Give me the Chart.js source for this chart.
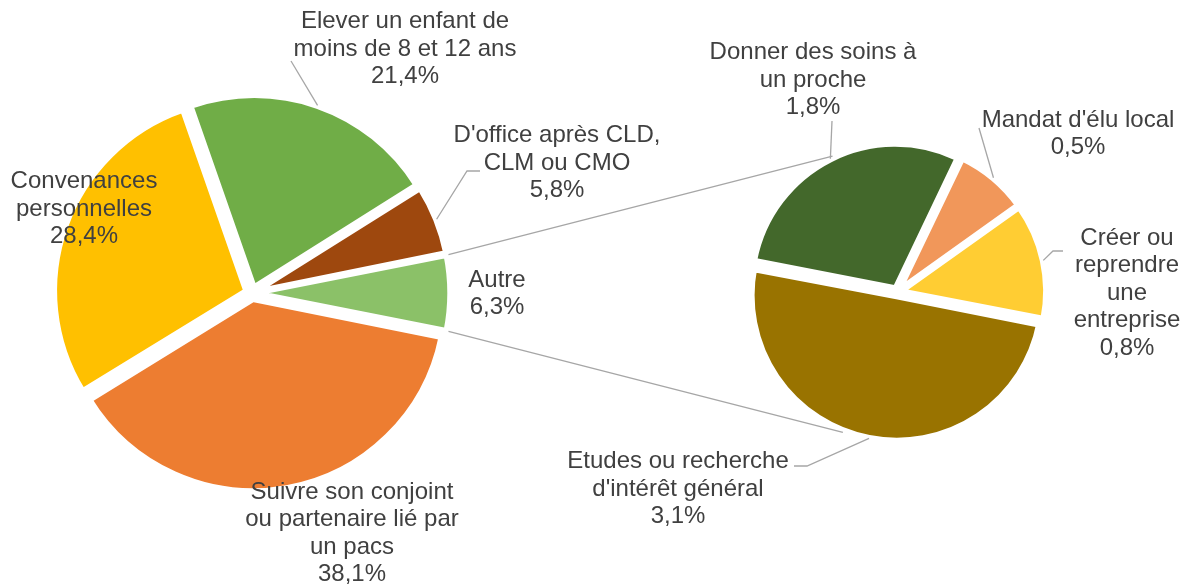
<!DOCTYPE html>
<html lang="fr">
<head>
<meta charset="utf-8">
<script src="https://cdn.jsdelivr.net/npm/chart.js@4.4.1/dist/chart.umd.min.js"></script>
<style>
  html, body { margin: 0; padding: 0; background: #fff; }
  #wrap { position: relative; width: 1189px; height: 588px; }
  #wrap canvas { position: absolute; left: 0; top: 0; }
</style>
</head>
<body>
<div id="wrap">
  <canvas id="pieMain" width="1189" height="588"></canvas>
  <canvas id="pieDetail" width="1189" height="588"></canvas>
</div>
<script>
// Camembert principal (en %)
const mainLabels = [
  ['Autre'],
  ['Suivre son conjoint', 'ou partenaire lié par', 'un pacs'],
  ['Convenances', 'personnelles'],
  ['Elever un enfant de', 'moins de 8 et 12 ans'],
  ["D'office après CLD,", 'CLM ou CMO']
];
const mainValues = [6.3, 38.1, 28.4, 21.4, 5.8];
const mainColors = ['#8BC168', '#ED7D31', '#FFC000', '#70AD47', '#9E480E'];

// Détail de la part "Autre" (en %)
const detailLabels = [
  ['Etudes ou recherche', "d'intérêt général"],
  ['Donner des soins à', 'un proche'],
  ["Mandat d'élu local"],
  ['Créer ou', 'reprendre', 'une', 'entreprise']
];
const detailValues = [3.1, 1.8, 0.5, 0.8];
const detailColors = ['#997300', '#43682B', '#F1975A', '#FFCD33'];

// Mise en page
const W = 1189, H = 588;
const FONT = '24px "Liberation Sans", Arial, sans-serif';
const LINE_H = 27.5;
const TEXT_COLOR = '#404040';
const LINE_COLOR = '#A6A6A6';

const somme = (arr) => arr.reduce((a, b) => a + b, 0);

// rVis = rayon visible, d = éclatement, w = demi-largeur du liseré blanc
const mainGeo = { cx: 252, cy: 293, rVis: 188.3, d: 7, w: 2.2, half: 252,
  rotation: 90 - mainValues[0] / somme(mainValues) * 180 };
const detailGeo = { cx: 897.5, cy: 292, rVis: 140.5, d: 5.2, w: 2.2, half: 150, rotation: 101 };

const mainLabelPos = [[497, 294], [352, 533.5], [84, 209], [405, 49], [557, 163]];
const mainLeaders = [null, null, null, [[291, 61]], [[467, 171], [480, 171]]];
const detailLabelPos = [[678, 489], [813, 80], [1078, 134], [1127, 293]];
const detailLeaders = [[[807, 466], [794, 466]], [[832, 121]], [[979, 128]], [[1053, 251], [1063, 251]]];

// angles (depuis le haut, sens horaire) où les traits de liaison touchent le 2e camembert
const connectTop = { index: 1, angle: 334.5 };
const connectBottom = { index: 0, angle: 201.5 };
const LEADER_PAD = 3.5;
const CONNECT_PAD = 5;

const fmt = (v) => v.toFixed(1).replace('.', ',') + '%';

// Chart.js v4 : translation = offset/4, rayon agrandi de offset/4 * (1 - sin c).
// On choisit offset et liseré par secteur pour un éclatement uniforme comme dans Excel.
function sliceStyle(geo, data, i) {
  const c = 2 * Math.PI * data[i] / somme(data);
  const f = 1 - Math.sin(Math.min(Math.PI, c));
  const s = Math.sin(Math.min(c / 2, Math.PI / 2));
  const h = geo.w + geo.d * f / ((1 + f) / s + 1);
  const t = geo.d + (geo.w - h) / s;
  return { offset: 4 * t, borderWidth: 2 * h };
}

// point sur le bord visible d'un secteur, à un angle donné (radians canvas)
function edgePoint(arc, angle, pad) {
  const mid = (arc.startAngle + arc.endAngle) / 2;
  const t = (arc.options.offset || 0) / 4;
  const c = arc.endAngle - arc.startAngle;
  const fix = 1 - Math.sin(Math.min(Math.PI, c));
  const r = arc.outerRadius + t * fix - arc.options.borderWidth / 2 + pad;
  const ox = arc.x + Math.cos(mid) * t;
  const oy = arc.y + Math.sin(mid) * t;
  return { x: ox + Math.cos(angle) * r, y: oy + Math.sin(angle) * r };
}

function labelPlugin(lines, positions, leaders) {
  return {
    id: 'etiquettes',
    afterDraw(chart) {
      const ctx = chart.ctx;
      const meta = chart.getDatasetMeta(0);
      const values = chart.data.datasets[0].data;
      ctx.save();
      ctx.strokeStyle = LINE_COLOR;
      ctx.lineWidth = 1.3;
      meta.data.forEach((arc, i) => {
        const pts = leaders[i];
        if (!pts) return;
        const p = edgePoint(arc, (arc.startAngle + arc.endAngle) / 2, LEADER_PAD);
        ctx.beginPath();
        ctx.moveTo(p.x, p.y);
        pts.forEach(q => ctx.lineTo(q[0], q[1]));
        ctx.stroke();
      });
      ctx.font = FONT;
      ctx.fillStyle = TEXT_COLOR;
      ctx.textAlign = 'center';
      ctx.textBaseline = 'middle';
      lines.forEach((txt, i) => {
        const all = txt.concat([fmt(values[i])]);
        const [x, y] = positions[i];
        all.forEach((t, k) => ctx.fillText(t, x, y + (k - (all.length - 1) / 2) * LINE_H));
      });
      ctx.restore();
    }
  };
}

const connectorPlugin = {
  id: 'liaisons',
  afterDraw(chart) {
    const ctx = chart.ctx;
    const autre = mainChart.getDatasetMeta(0).data[0];
    const det = chart.getDatasetMeta(0).data;
    const rad = (a) => (a - 90) * Math.PI / 180;
    const a1 = edgePoint(autre, autre.startAngle, CONNECT_PAD);
    const a2 = edgePoint(autre, autre.endAngle, CONNECT_PAD);
    const b1 = edgePoint(det[connectTop.index], rad(connectTop.angle), CONNECT_PAD);
    const b2 = edgePoint(det[connectBottom.index], rad(connectBottom.angle), CONNECT_PAD);
    ctx.save();
    ctx.strokeStyle = LINE_COLOR;
    ctx.lineWidth = 1.3;
    ctx.beginPath();
    ctx.moveTo(a1.x, a1.y); ctx.lineTo(b1.x, b1.y);
    ctx.moveTo(a2.x, a2.y); ctx.lineTo(b2.x, b2.y);
    ctx.stroke();
    ctx.restore();
  }
};

function pieConfig(labels, values, colors, geo, extraPlugins) {
  return {
    type: 'pie',
    data: {
      labels: labels.map(l => l.join(' ')),
      datasets: [{
        data: values,
        backgroundColor: colors,
        borderColor: '#ffffff',
        borderWidth: (ctx) => sliceStyle(geo, ctx.dataset.data, ctx.dataIndex).borderWidth,
        offset: (ctx) => sliceStyle(geo, ctx.dataset.data, ctx.dataIndex).offset,
        hoverOffset: 0,
        clip: false
      }]
    },
    options: {
      responsive: false,
      animation: false,
      events: [],
      radius: geo.rVis + geo.w,
      rotation: geo.rotation,
      layout: {
        padding: {
          left: geo.cx - geo.half,
          right: W - geo.cx - geo.half,
          top: geo.cy - geo.half,
          bottom: H - geo.cy - geo.half
        }
      },
      plugins: { legend: { display: false }, tooltip: { enabled: false } }
    },
    plugins: extraPlugins
  };
}

const mainChart = new Chart(document.getElementById('pieMain'),
  pieConfig(mainLabels, mainValues, mainColors, mainGeo,
    [labelPlugin(mainLabels, mainLabelPos, mainLeaders)]));

const detailChart = new Chart(document.getElementById('pieDetail'),
  pieConfig(detailLabels, detailValues, detailColors, detailGeo,
    [labelPlugin(detailLabels, detailLabelPos, detailLeaders), connectorPlugin]));
</script>
</body>
</html>
